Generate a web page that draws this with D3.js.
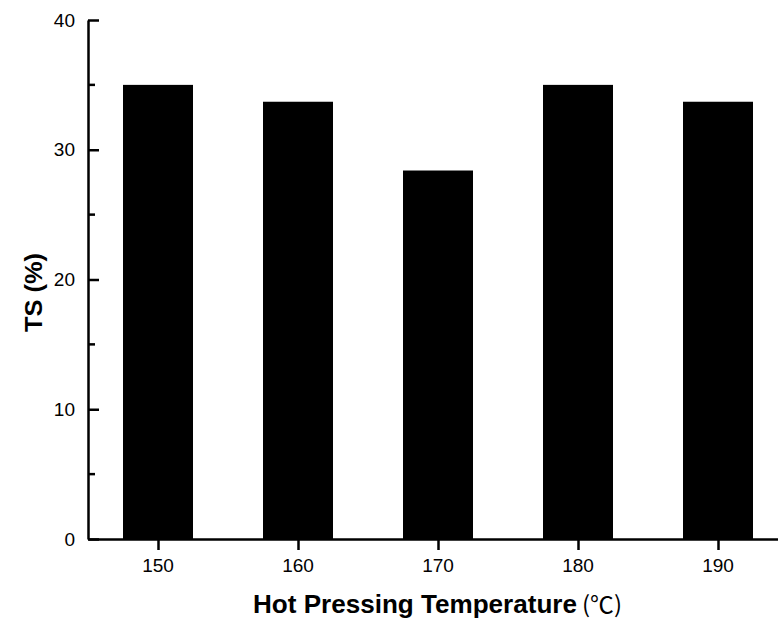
<!DOCTYPE html>
<html>
<head>
<meta charset="utf-8">
<script src="https://cdn.jsdelivr.net/npm/d3@7"></script>
<style>
  html, body { margin: 0; padding: 0; background: #fff; }
  svg { display: block; }
</style>
</head>
<body>
<div id="chart"></div>
<script>
"use strict";

// data
const temperatures = [150, 160, 170, 180, 190];
const tsValues = [35.0, 33.7, 28.4, 35.0, 33.7];
const yTicks = [0, 10, 20, 30, 40];
const yMinorTicks = [5, 15, 25, 35];

const width = 778, height = 619;
const margin = { left: 88, top: 20 };

const svg = d3.select("#chart").append("svg")
    .attr("width", width)
    .attr("height", height);

// x axis goes on past the right edge (picture is cropped)
const x = d3.scaleLinear().domain([145, 195]).range([margin.left, margin.left + 700]);
const y = d3.scaleLinear().domain([0, 40]).range([539, margin.top]);
const barWidth = x(155) - x(150);

// bars
svg.append("g")
    .selectAll("rect")
    .data(temperatures)
    .join("rect")
    .attr("x", d => x(d) - barWidth / 2)
    .attr("y", (d, i) => y(tsValues[i]))
    .attr("width", barWidth)
    .attr("height", (d, i) => y(0) - y(tsValues[i]))
    .attr("fill", "#000");

// y axis, ticks pointing inward
const yAxis = svg.append("g")
    .attr("transform", `translate(${margin.left},0)`)
    .call(d3.axisRight(y).tickValues(yTicks).tickSize(11).tickSizeOuter(0).tickFormat(""));
yAxis.selectAll("line").attr("stroke-width", 2.5);
yAxis.select(".domain").attr("stroke-width", 2.5);

svg.append("g")
    .attr("transform", `translate(${margin.left},0)`)
    .selectAll("line")
    .data(yMinorTicks)
    .join("line")
    .attr("x1", 0).attr("x2", 7)
    .attr("y1", d => y(d)).attr("y2", d => y(d))
    .attr("stroke", "#000")
    .attr("stroke-width", 2.5);

svg.append("g")
    .selectAll("text")
    .data(yTicks)
    .join("text")
    .attr("x", margin.left - 13)
    .attr("y", d => y(d))
    .attr("dy", "0.35em")
    .attr("text-anchor", "end")
    .style("font", "19px Arial, 'Liberation Sans', sans-serif")
    .text(d => d);

// x axis, ticks pointing outward
const xAxis = svg.append("g")
    .attr("transform", `translate(0,${y(0)})`)
    .call(d3.axisBottom(x).tickValues(temperatures).tickSize(11).tickSizeOuter(0).tickFormat(""));
xAxis.selectAll("line").attr("stroke-width", 2.5);
xAxis.select(".domain").attr("stroke-width", 2.5);

svg.append("g")
    .selectAll("text")
    .data(temperatures)
    .join("text")
    .attr("x", d => x(d))
    .attr("y", 572)
    .attr("text-anchor", "middle")
    .style("font", "19px Arial, 'Liberation Sans', sans-serif")
    .text(d => d);

// axis titles (glyphs in the original are a bit wider than Arial, so stretch)
svg.append("text")
    .attr("x", 253)
    .attr("y", 613)
    .attr("textLength", 324)
    .attr("lengthAdjust", "spacingAndGlyphs")
    .style("font", "bold 25px Arial, 'Liberation Sans', sans-serif")
    .text("Hot Pressing Temperature");

svg.append("text")
    .attr("x", 582)
    .attr("y", 613)
    .attr("textLength", 40)
    .attr("lengthAdjust", "spacingAndGlyphs")
    .style("font", "23px 'Noto Sans CJK SC', sans-serif")
    .text("(℃)");

svg.append("text")
    .attr("transform", "translate(42,292.5) rotate(-90)")
    .attr("text-anchor", "middle")
    .attr("textLength", 79)
    .attr("lengthAdjust", "spacingAndGlyphs")
    .style("font", "bold 24px Arial, 'Liberation Sans', sans-serif")
    .text("TS (%)");
</script>
</body>
</html>
